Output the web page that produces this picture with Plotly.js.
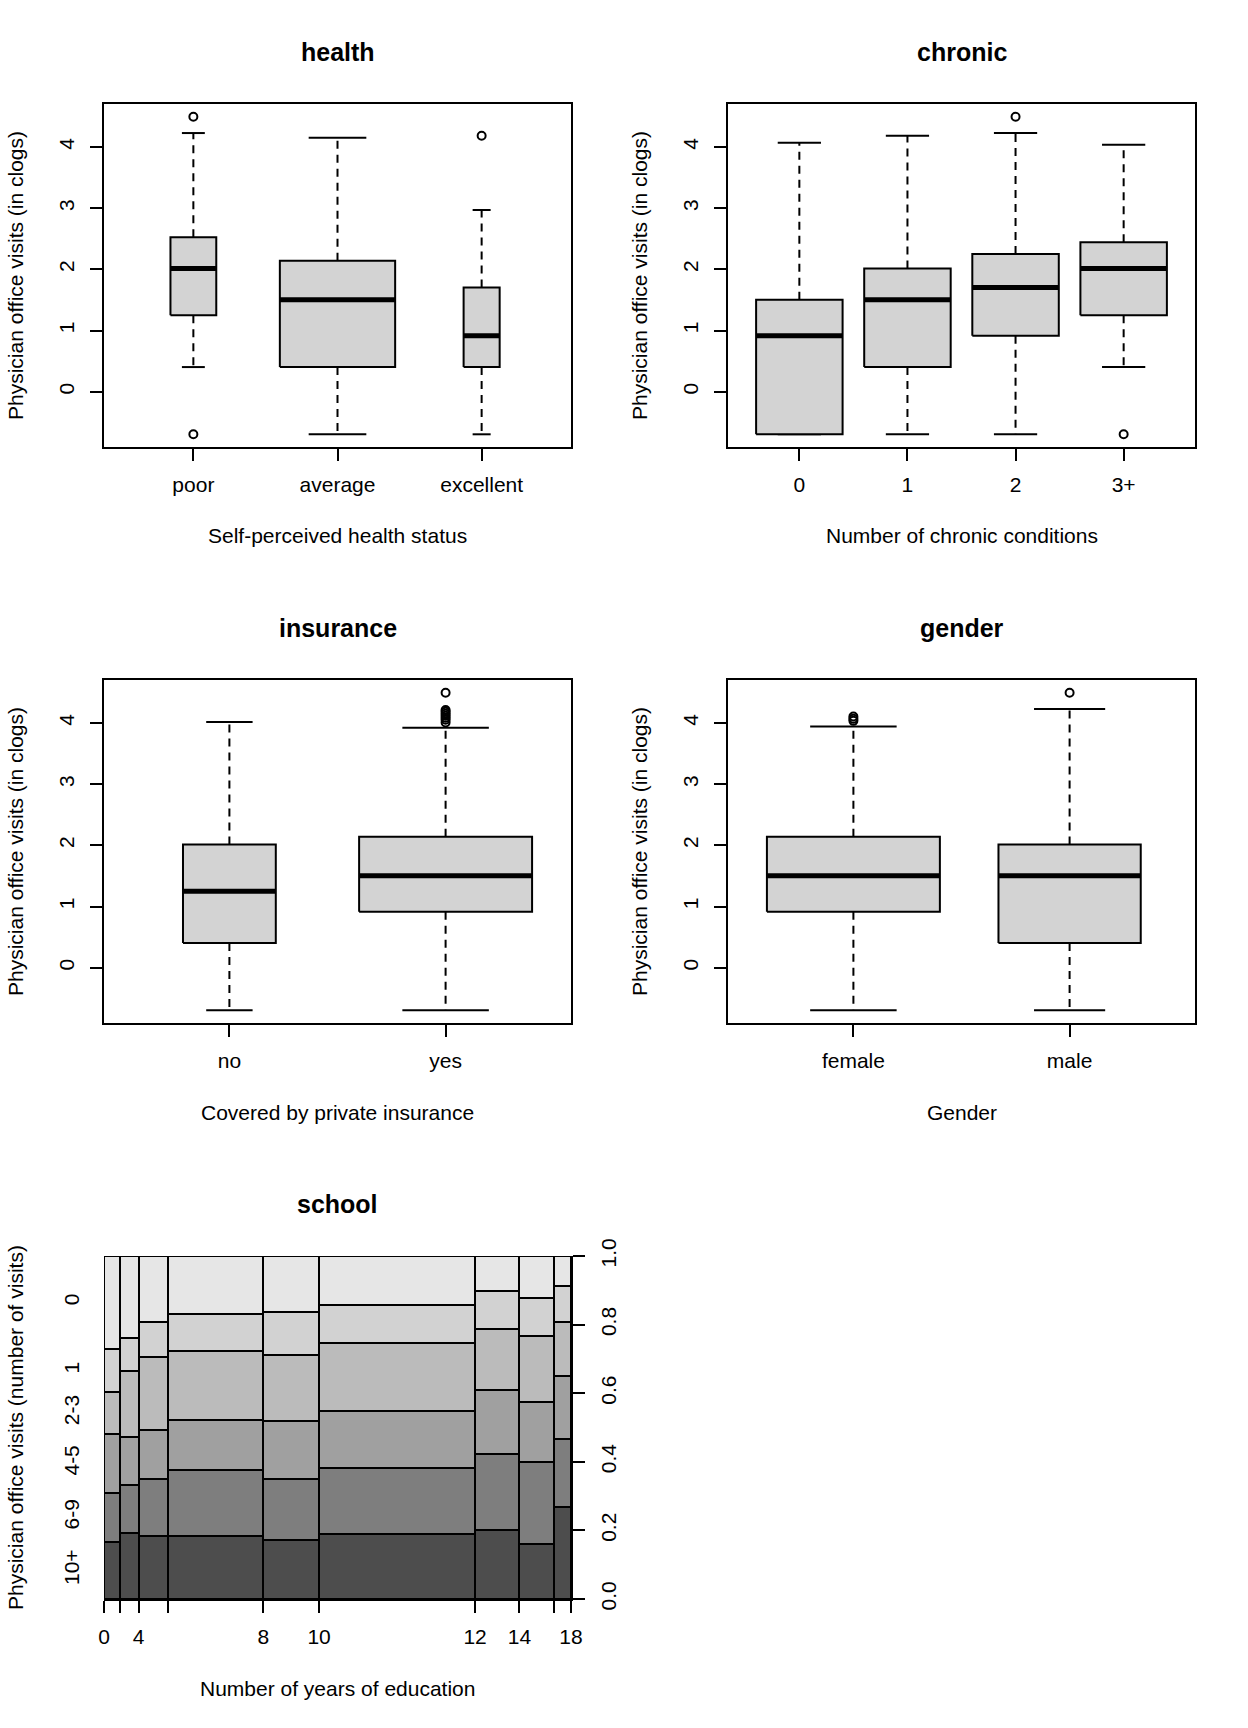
<!DOCTYPE html>
<html><head><meta charset="utf-8">
<script src="https://cdn.plot.ly/plotly-3.0.1.min.js"></script>
<style>html,body{margin:0;padding:0;background:#fff}</style>
</head><body><div id="chart" style="width:1248px;height:1728px"></div>
<script>
// ---------- DATA (values in clogs = log(visits + 0.5)) ----------
const healthCats = ["poor", "average", "excellent"];
const healthN    = [554, 3509, 343];
const healthLow  = [0.405, -0.693, -0.693];
const healthQ1   = [1.253, 0.405, 0.405];
const healthMed  = [2.015, 1.504, 0.916];
const healthQ3   = [2.526, 2.140, 1.705];
const healthHigh = [4.227, 4.151, 2.970];
const healthOut  = [[4.494, -0.693], [], [4.182]];

const chronicCats = ["0", "1", "2", "3+"];
const chronicN    = [1, 1, 1, 1];
const chronicLow  = [-0.693, -0.693, -0.693, 0.405];
const chronicQ1   = [-0.693, 0.405, 0.916, 1.253];
const chronicMed  = [0.916, 1.504, 1.705, 2.015];
const chronicQ3   = [1.504, 2.015, 2.251, 2.442];
const chronicHigh = [4.069, 4.182, 4.227, 4.034];
const chronicOut  = [[], [], [4.494], [-0.693]];

const insCats = ["no", "yes"];
const insN    = [985, 3421];
const insLow  = [-0.693, -0.693];
const insQ1   = [0.405, 0.916];
const insMed  = [1.253, 1.504];
const insQ3   = [2.015, 2.140];
const insHigh = [4.016, 3.922];
const insOut  = [[], [4.007, 4.052, 4.086, 4.119, 4.151, 4.182, 4.212, 4.494]];

const genderCats = ["female", "male"];
const genderN    = [2628, 1778];
const genderLow  = [-0.693, -0.693];
const genderQ1   = [0.916, 0.405];
const genderMed  = [1.504, 1.504];
const genderQ3   = [2.140, 2.015];
const genderHigh = [3.942, 4.227];
const genderOut  = [[4.034, 4.069, 4.104], [4.494]];

// school spineplot
const schoolBreaks = [0, 2, 4, 6, 8, 10, 12, 14, 16, 18];
const schoolBreakLabels = ["0", "", "4", "", "8", "10", "12", "14", "", "18"];
const schoolCounts = [154, 173, 277, 899, 526, 1472, 418, 330, 157];
const visitLevels = ["10+", "6-9", "4-5", "2-3", "1", "0"]; // bottom to top
const prop10p = [0.167, 0.192, 0.185, 0.185, 0.173, 0.189, 0.201, 0.161, 0.268];
const prop6_9 = [0.142, 0.140, 0.166, 0.192, 0.176, 0.193, 0.222, 0.238, 0.198];
const prop4_5 = [0.172, 0.141, 0.142, 0.146, 0.170, 0.167, 0.186, 0.176, 0.184];
const prop2_3 = [0.122, 0.193, 0.213, 0.201, 0.192, 0.198, 0.179, 0.192, 0.157];
const prop1   = [0.125, 0.094, 0.103, 0.106, 0.125, 0.109, 0.110, 0.110, 0.107];
const prop0   = [0.272, 0.240, 0.191, 0.170, 0.164, 0.144, 0.102, 0.123, 0.086];
const rightTicks = [0, 0.2, 0.4, 0.6, 0.8, 1.0];

// ---------- LAYOUT HELPERS ----------
const W = 1248, H = 1728;
const FONT = "Liberation Sans, Arial, Helvetica, sans-serif";
const colPx = [[104, 571], [728, 1195]];
const rowPx = [[104, 447], [680, 1023], [1256, 1599]];
const xd = c => [colPx[c][0] / W, colPx[c][1] / W];
const yd = r => [1 - rowPx[r][1] / H, 1 - rowPx[r][0] / H];

const traces = [];
const annotations = [];
const layout = {
  width: W, height: H, margin: {l: 0, r: 0, t: 0, b: 0},
  paper_bgcolor: "white", plot_bgcolor: "white",
  showlegend: false, barmode: "stack",
  font: {family: FONT, size: 21, color: "black"},
  annotations: annotations
};

function txt(text, px, py, size, angle) {
  annotations.push({text: text, xref: "paper", yref: "paper", x: px / W, y: 1 - py / H,
    xanchor: "center", yanchor: "middle", showarrow: false, textangle: angle || 0,
    font: {family: FONT, size: size, color: "black"}});
}

function panelText(r, c, title, xt, yt) {
  const cx = (colPx[c][0] + colPx[c][1]) / 2;
  txt("<b>" + title + "</b>", cx, rowPx[r][0] - 52, 25);
  txt(xt, cx, rowPx[r][1] + 89, 21);
  txt(yt, colPx[c][0] - 88.5, (rowPx[r][0] + rowPx[r][1]) / 2, 21, -90);
}

function boxPanel(idx, r, c, cats, n, low, q1, med, q3, high, outs, varwidth, title, xt) {
  const xa = idx === 1 ? "x" : "x" + idx, ya = idx === 1 ? "y" : "y" + idx;
  const maxN = Math.max(...n);
  let allY = [];
  cats.forEach((cat, i) => {
    const xc = i + 1;
    const w = 0.8 * (varwidth ? Math.sqrt(n[i] / maxN) : 1), h = w / 2;
    const common = {xaxis: xa, yaxis: ya, hoverinfo: "skip", showlegend: false};
    traces.push(Object.assign({x: [xc, xc, null, xc, xc], y: [q3[i], high[i], null, q1[i], low[i]],
      mode: "lines", line: {color: "black", width: 2, dash: "8px,6px"}}, common));
    traces.push(Object.assign({x: [xc - h / 2, xc + h / 2, null, xc - h / 2, xc + h / 2],
      y: [high[i], high[i], null, low[i], low[i]], mode: "lines", line: {color: "black", width: 2}}, common));
    traces.push(Object.assign({x: [xc - h, xc + h, xc + h, xc - h, xc - h], y: [q1[i], q1[i], q3[i], q3[i], q1[i]],
      mode: "lines", fill: "toself", fillcolor: "#D3D3D3", line: {color: "black", width: 2}}, common));
    traces.push(Object.assign({x: [xc - h, xc + h], y: [med[i], med[i]], mode: "lines",
      line: {color: "black", width: 5}}, common));
    if (outs[i].length) {
      traces.push(Object.assign({x: outs[i].map(() => xc), y: outs[i], mode: "markers",
        marker: {symbol: "circle-open", size: 8, color: "black", line: {width: 2, color: "black"}}}, common));
    }
    allY = allY.concat([low[i], high[i]], outs[i]);
  });
  const ymin = Math.min(...allY), ymax = Math.max(...allY), ext = 0.04 * (ymax - ymin);
  const nc = cats.length, xext = 0.04 * nc;
  const axBase = {ticks: "outside", ticklen: 12, tickwidth: 2, tickcolor: "black",
    showline: true, mirror: true, linewidth: 2, linecolor: "black", showgrid: false, zeroline: false,
    tickfont: {family: FONT, size: 21, color: "black"}, fixedrange: true};
  layout[idx === 1 ? "xaxis" : "xaxis" + idx] = Object.assign({}, axBase, {
    domain: xd(c), anchor: ya, range: [0.5 - xext, nc + 0.5 + xext],
    tickmode: "array", tickvals: cats.map((_, i) => i + 1), ticktext: cats, ticklabelstandoff: 6});
  layout[idx === 1 ? "yaxis" : "yaxis" + idx] = Object.assign({}, axBase, {
    domain: yd(r), anchor: xa, range: [ymin - ext, ymax + ext],
    tickmode: "array", tickvals: [0, 1, 2, 3, 4], ticktext: ["0", "1", "2", "3", "4"], tickangle: -90,
    ticklabelstandoff: 8});
  panelText(r, c, title, xt, "Physician office visits (in clogs)");
}

boxPanel(1, 0, 0, healthCats, healthN, healthLow, healthQ1, healthMed, healthQ3, healthHigh, healthOut, true,
  "health", "Self-perceived health status");
boxPanel(2, 0, 1, chronicCats, chronicN, chronicLow, chronicQ1, chronicMed, chronicQ3, chronicHigh, chronicOut, false,
  "chronic", "Number of chronic conditions");
boxPanel(3, 1, 0, insCats, insN, insLow, insQ1, insMed, insQ3, insHigh, insOut, true,
  "insurance", "Covered by private insurance");
boxPanel(4, 1, 1, genderCats, genderN, genderLow, genderQ1, genderMed, genderQ3, genderHigh, genderOut, true,
  "gender", "Gender");

// ---------- SPINEPLOT ----------
const props = [prop10p, prop6_9, prop4_5, prop2_3, prop1, prop0];
const grays = ["#4D4D4D", "#7E7E7E", "#A0A0A0", "#BBBBBB", "#D2D2D2", "#E6E6E6"];
const total = schoolCounts.reduce((a, b) => a + b, 0);
const cum = [0];
schoolCounts.forEach(v => cum.push(cum[cum.length - 1] + v));
const mids = schoolCounts.map((v, i) => cum[i] + v / 2);
props.forEach((p, k) => {
  traces.push({type: "bar", x: mids, y: p, width: schoolCounts, xaxis: "x5", yaxis: "y5",
    marker: {color: grays[k], line: {color: "black", width: 2}}, hoverinfo: "skip", showlegend: false});
});
// left labels at the middle of the first bar's segments
const firstCum = [0];
props.forEach(p => firstCum.push(firstCum[firstCum.length - 1] + p[0]));
const leftTickVals = props.map((p, k) => (firstCum[k] + firstCum[k + 1]) / 2);

const spBase = {showgrid: false, zeroline: false, fixedrange: true, tickcolor: "black", tickwidth: 2,
  tickfont: {family: FONT, size: 21, color: "black"}, linecolor: "black", linewidth: 2};
layout.xaxis5 = Object.assign({}, spBase, {domain: xd(0), anchor: "y5", range: [0, total],
  tickmode: "array", tickvals: cum, ticktext: schoolBreakLabels, ticks: "outside", ticklen: 12,
  showline: true, ticklabelstandoff: 6});
layout.yaxis5 = Object.assign({}, spBase, {domain: yd(2), anchor: "x5", range: [0, 1],
  tickmode: "array", tickvals: leftTickVals, ticktext: visitLevels, ticks: "", showline: false,
  tickangle: -90, ticklabelstandoff: 20});
layout.yaxis6 = Object.assign({}, spBase, {overlaying: "y5", side: "right", anchor: "x5", range: [0, 1],
  tickmode: "array", tickvals: rightTicks, ticktext: rightTicks.map(v => v.toFixed(1)),
  ticks: "outside", ticklen: 12, showline: true, tickangle: -90, ticklabelstandoff: 6});
// invisible point to activate the right axis
traces.push({x: [0], y: [0], xaxis: "x5", yaxis: "y6", mode: "markers", marker: {opacity: 0}, hoverinfo: "skip", showlegend: false});

panelText(2, 0, "school", "Number of years of education", "Physician office visits (number of visits)");

Plotly.newPlot("chart", traces, layout, {staticPlot: true, displayModeBar: false});
</script>
</body></html>
